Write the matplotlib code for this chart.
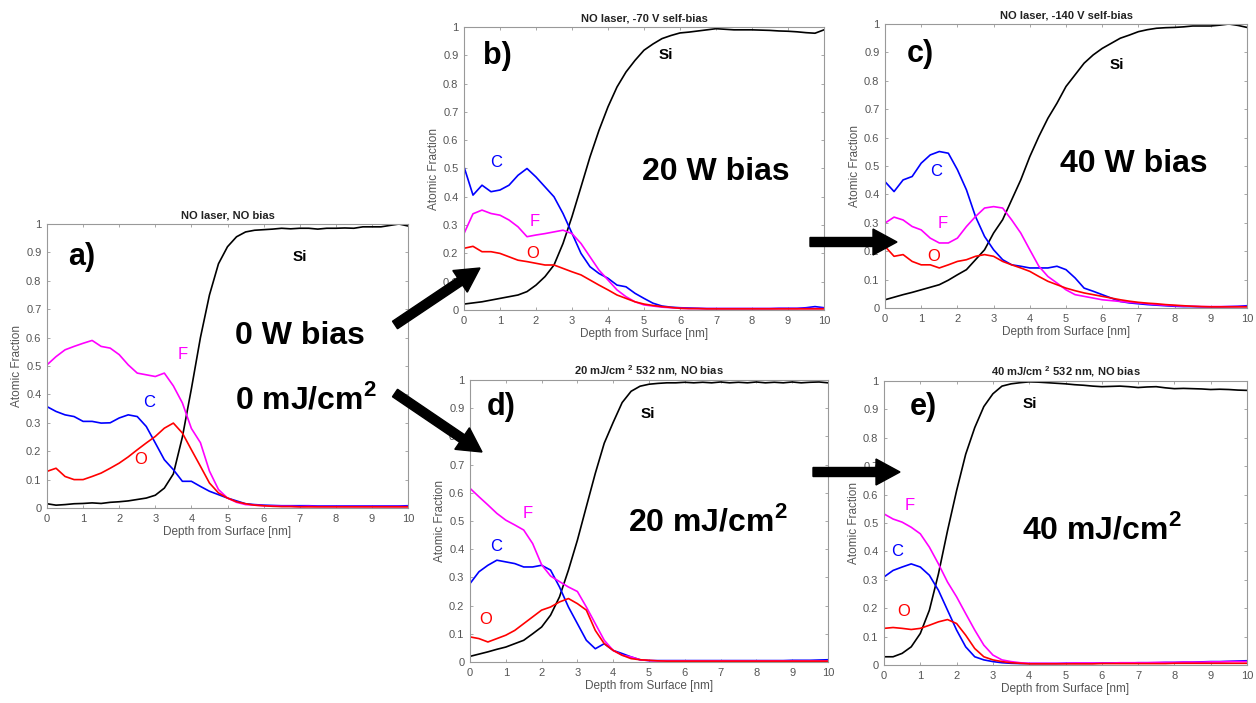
import matplotlib
matplotlib.use("Agg")
import matplotlib.pyplot as plt
from matplotlib.patches import FancyArrow
from matplotlib.transforms import IdentityTransform

plt.rcParams['font.family'] = ['Liberation Sans', 'DejaVu Sans']
plt.rcParams['mathtext.fontset'] = 'custom'
plt.rcParams['mathtext.rm'] = 'Liberation Sans'
plt.rcParams['mathtext.bf'] = 'Liberation Sans:bold'

# ---------------- data ----------------
depth = [i * 0.25 for i in range(41)]

si_a = [0.015,0.010,0.012,0.015,0.016,0.018,0.016,0.020,0.022,0.025,0.030,0.035,0.045,0.070,0.120,0.250,0.420,0.600,0.750,0.860,0.920,0.955,0.972,0.978,0.980,0.982,0.985,0.983,0.985,0.985,0.982,0.985,0.985,0.986,0.985,0.990,0.990,0.990,0.995,1.000,0.993]
f_a = [0.504,0.533,0.557,0.569,0.580,0.590,0.569,0.563,0.540,0.504,0.475,0.469,0.463,0.475,0.430,0.370,0.280,0.230,0.130,0.065,0.035,0.020,0.012,0.010,0.008,0.007,0.006,0.006,0.005,0.006,0.005,0.005,0.005,0.005,0.005,0.005,0.005,0.005,0.005,0.005,0.005]
c_a = [0.357,0.340,0.328,0.322,0.305,0.305,0.299,0.300,0.317,0.328,0.322,0.287,0.229,0.170,0.135,0.094,0.094,0.076,0.059,0.047,0.035,0.025,0.015,0.012,0.010,0.009,0.008,0.008,0.008,0.008,0.007,0.007,0.007,0.007,0.007,0.007,0.007,0.007,0.007,0.007,0.008]
o_a = [0.129,0.140,0.111,0.100,0.100,0.111,0.123,0.140,0.158,0.180,0.205,0.229,0.252,0.281,0.299,0.264,0.205,0.147,0.088,0.053,0.035,0.022,0.015,0.010,0.008,0.006,0.005,0.005,0.004,0.004,0.004,0.004,0.004,0.004,0.004,0.004,0.004,0.004,0.004,0.004,0.004]

si_b = [0.021,0.025,0.029,0.035,0.041,0.047,0.053,0.065,0.088,0.118,0.159,0.235,0.330,0.435,0.541,0.635,0.718,0.788,0.841,0.882,0.918,0.940,0.959,0.970,0.979,0.982,0.986,0.990,0.994,0.992,0.990,0.990,0.990,0.989,0.988,0.986,0.985,0.983,0.980,0.978,0.990]
c_b = [0.506,0.406,0.441,0.418,0.424,0.441,0.476,0.500,0.470,0.435,0.400,0.341,0.271,0.200,0.153,0.129,0.112,0.088,0.082,0.059,0.041,0.024,0.014,0.010,0.008,0.007,0.006,0.005,0.005,0.005,0.005,0.005,0.005,0.005,0.005,0.006,0.006,0.006,0.008,0.012,0.008]
f_b = [0.270,0.340,0.353,0.341,0.335,0.318,0.294,0.259,0.265,0.270,0.276,0.282,0.270,0.235,0.188,0.141,0.106,0.071,0.047,0.029,0.018,0.014,0.010,0.008,0.006,0.005,0.005,0.005,0.005,0.005,0.005,0.005,0.005,0.005,0.005,0.005,0.005,0.005,0.005,0.005,0.005]
o_b = [0.218,0.225,0.206,0.206,0.200,0.188,0.176,0.171,0.165,0.159,0.159,0.147,0.135,0.124,0.106,0.088,0.071,0.053,0.041,0.029,0.021,0.016,0.012,0.009,0.006,0.005,0.005,0.004,0.004,0.004,0.004,0.004,0.004,0.004,0.004,0.004,0.004,0.004,0.004,0.004,0.004]

si_c = [0.029,0.038,0.047,0.055,0.064,0.073,0.082,0.098,0.117,0.135,0.170,0.205,0.264,0.311,0.381,0.451,0.533,0.604,0.668,0.721,0.780,0.821,0.862,0.891,0.914,0.932,0.950,0.961,0.973,0.980,0.985,0.987,0.988,0.990,0.993,0.993,0.993,0.996,1.000,0.995,0.988]
c_c = [0.445,0.410,0.451,0.463,0.510,0.539,0.551,0.545,0.487,0.416,0.322,0.252,0.205,0.170,0.152,0.147,0.141,0.141,0.141,0.147,0.135,0.106,0.070,0.059,0.047,0.035,0.023,0.018,0.015,0.012,0.010,0.008,0.006,0.005,0.005,0.004,0.004,0.004,0.005,0.006,0.008]
f_c = [0.299,0.320,0.310,0.287,0.275,0.246,0.229,0.229,0.246,0.287,0.322,0.352,0.357,0.352,0.310,0.264,0.205,0.147,0.111,0.088,0.064,0.047,0.041,0.035,0.029,0.026,0.023,0.020,0.018,0.015,0.012,0.010,0.008,0.007,0.006,0.005,0.005,0.005,0.005,0.005,0.005]
o_c = [0.217,0.182,0.188,0.164,0.152,0.152,0.141,0.152,0.164,0.170,0.182,0.188,0.182,0.164,0.152,0.141,0.129,0.111,0.094,0.082,0.070,0.061,0.053,0.047,0.041,0.035,0.029,0.024,0.020,0.017,0.015,0.012,0.010,0.008,0.006,0.005,0.004,0.004,0.004,0.004,0.004]

si_d = [0.020,0.028,0.036,0.045,0.053,0.065,0.077,0.100,0.124,0.166,0.231,0.326,0.432,0.551,0.669,0.776,0.850,0.920,0.960,0.978,0.985,0.988,0.990,0.990,0.992,0.990,0.992,0.990,0.993,0.990,0.992,0.990,0.993,0.990,0.992,0.990,0.993,0.990,0.992,0.993,0.990]
f_d = [0.616,0.586,0.557,0.527,0.503,0.486,0.468,0.420,0.345,0.305,0.285,0.266,0.250,0.195,0.136,0.077,0.041,0.024,0.018,0.008,0.005,0.004,0.004,0.004,0.004,0.004,0.004,0.004,0.004,0.004,0.004,0.004,0.004,0.004,0.004,0.004,0.004,0.004,0.004,0.004,0.004]
c_d = [0.278,0.320,0.343,0.361,0.355,0.349,0.337,0.337,0.343,0.326,0.266,0.195,0.136,0.077,0.047,0.065,0.041,0.030,0.018,0.008,0.005,0.005,0.005,0.005,0.005,0.005,0.005,0.005,0.005,0.005,0.005,0.005,0.005,0.005,0.005,0.005,0.006,0.006,0.006,0.007,0.008]
o_d = [0.089,0.083,0.071,0.083,0.095,0.112,0.136,0.160,0.184,0.195,0.213,0.225,0.207,0.184,0.112,0.065,0.041,0.024,0.012,0.008,0.006,0.004,0.003,0.003,0.003,0.003,0.003,0.003,0.003,0.003,0.003,0.003,0.003,0.003,0.003,0.003,0.003,0.003,0.003,0.003,0.003]

si_e = [0.029,0.029,0.041,0.064,0.111,0.193,0.321,0.473,0.614,0.742,0.836,0.910,0.955,0.982,0.990,0.994,0.997,0.996,0.994,0.992,0.990,0.987,0.985,0.982,0.980,0.981,0.982,0.980,0.977,0.979,0.980,0.976,0.973,0.974,0.973,0.972,0.970,0.971,0.970,0.968,0.967]
f_e = [0.532,0.514,0.503,0.485,0.462,0.415,0.356,0.292,0.240,0.181,0.123,0.070,0.035,0.018,0.012,0.008,0.006,0.006,0.006,0.006,0.006,0.007,0.007,0.007,0.007,0.007,0.008,0.008,0.008,0.008,0.009,0.009,0.009,0.010,0.010,0.010,0.011,0.011,0.012,0.012,0.012]
c_e = [0.310,0.333,0.345,0.356,0.345,0.316,0.263,0.193,0.123,0.064,0.029,0.018,0.012,0.008,0.006,0.005,0.005,0.005,0.005,0.005,0.006,0.006,0.006,0.006,0.007,0.007,0.007,0.007,0.008,0.008,0.008,0.009,0.009,0.010,0.010,0.011,0.012,0.012,0.013,0.014,0.015]
o_e = [0.129,0.132,0.129,0.125,0.129,0.140,0.152,0.160,0.146,0.105,0.058,0.029,0.018,0.012,0.008,0.006,0.004,0.004,0.004,0.004,0.004,0.004,0.004,0.004,0.005,0.005,0.005,0.005,0.005,0.005,0.005,0.005,0.006,0.006,0.006,0.006,0.006,0.006,0.006,0.006,0.006]

titles = ["NO laser, NO bias", "NO laser, -70 V self-bias", "NO laser, -140 V self-bias",
          r"20 mJ/cm $^{\mathbf{2}}$ 532 nm, NO bias", r"40 mJ/cm $^{\mathbf{2}}$ 532 nm, NO bias"]
panel_letters = ["a)", "b)", "c)", "d)", "e)"]
yticks = [0, 0.1, 0.2, 0.3, 0.4, 0.5, 0.6, 0.7, 0.8, 0.9, 1]
ytick_labels = ["0", "0.1", "0.2", "0.3", "0.4", "0.5", "0.6", "0.7", "0.8", "0.9", "1"]
xticks = list(range(11))

# ---------------- figure ----------------
W, H = 1256, 703
fig = plt.figure(figsize=(W / 100, H / 100), dpi=100)

# axes boxes in pixels: left, top, right, bottom
boxes = [(47, 224, 408, 508), (464, 27, 824, 310), (885, 24, 1247, 308),
         (470, 380, 828, 662), (884, 381, 1247, 665)]

series = [
    (si_a, f_a, c_a, o_a),
    (si_b, f_b, c_b, o_b),
    (si_c, f_c, c_c, o_c),
    (si_d, f_d, c_d, o_d),
    (si_e, f_e, c_e, o_e),
]

# element label positions (data coords): Si, F, C, O
elem_pos = [
    [(7.0, 0.884), (3.75, 0.54), (2.83, 0.37), (2.6, 0.17)],
    [(5.62, 0.90), (1.96, 0.314), (0.89, 0.52), (1.92, 0.20)],
    [(6.4, 0.855), (1.58, 0.296), (1.4, 0.48), (1.35, 0.18)],
    [(4.96, 0.88), (1.62, 0.525), (0.72, 0.41), (0.43, 0.15)],
    [(4.03, 0.92), (0.72, 0.56), (0.37, 0.40), (0.54, 0.19)],
]
letter_pos = [(0.58, 0.884), (0.53, 0.897), (0.61, 0.894), (0.47, 0.904), (0.72, 0.908)]

gray = '#555555'
spine_gray = '#999999'
colors = ['black', '#ff00ff', '#0000ff', '#ff0000']
elem_names = ['Si', 'F', 'C', 'O']

axes = []
for k, (l, t, r, b) in enumerate(boxes):
    ax = fig.add_axes([l / W, 1 - b / H, (r - l) / W, (b - t) / H])
    axes.append(ax)
    si, f, c, o = series[k]
    ax.plot(depth, si, color=colors[0], lw=1.2)
    ax.plot(depth, c, color=colors[2], lw=1.2)
    ax.plot(depth, f, color=colors[1], lw=1.2)
    ax.plot(depth, o, color=colors[3], lw=1.2)
    ax.set_xlim(0, 10)
    ax.set_ylim(0, 1)
    ax.set_xticks(xticks)
    ax.set_yticks(yticks)
    ax.set_yticklabels(ytick_labels)
    ax.tick_params(direction='in', length=2.5, width=0.6, colors=spine_gray,
                   labelcolor=gray, labelsize=8, top=True, right=True, pad=4)
    for s in ax.spines.values():
        s.set_color(spine_gray)
        s.set_linewidth(0.8)
    ax.set_ylabel("Atomic Fraction", color=gray, fontsize=8.5, labelpad=2)
    ax.set_xlabel("Depth from Surface [nm]", color=gray, fontsize=8.5, labelpad=2)
    ax.set_title(titles[k], fontsize=8, fontweight='bold', color='#222222', pad=4)
    # panel letter
    ax.text(letter_pos[k][0], letter_pos[k][1], panel_letters[k], fontsize=22,
            fontweight='bold', ha='left', va='center')
    # element labels
    for j, name in enumerate(elem_names):
        x, y = elem_pos[k][j]
        if name == 'Si':
            ax.text(x, y, name, fontsize=11, fontweight='bold', color='black',
                    ha='center', va='center')
        else:
            ax.text(x, y, name, fontsize=12, color=colors[j], ha='center', va='center')

big = dict(fontsize=23, fontweight='bold', ha='left', va='baseline')
axes[0].text(5.2, 0.577, "0 W bias", **big)
axes[0].text(5.2, 0.352, r"0 mJ/cm$^{\mathbf{2}}$", **big)
axes[1].text(4.94, 0.459, "20 W bias", **big)
axes[2].text(4.83, 0.479, "40 W bias", **big)
axes[3].text(4.41, 0.468, r"20 mJ/cm$^{\mathbf{2}}$", **big)
axes[4].text(3.80, 0.447, r"40 mJ/cm$^{\mathbf{2}}$", **big)

# arrows in image pixel coords (tail -> tip)
arrows = [((395, 325), (480, 268)), ((395, 393), (482, 452)),
          ((810, 242), (897, 242)), ((813, 472), (900, 472))]
for (x0, y0), (x1, y1) in arrows:
    a = FancyArrow(x0, H - y0, x1 - x0, -(y1 - y0), width=9, head_width=26,
                   head_length=24, length_includes_head=True, color='black',
                   transform=IdentityTransform(), clip_on=False)
    fig.add_artist(a)

fig.savefig("out.png", dpi=100)
